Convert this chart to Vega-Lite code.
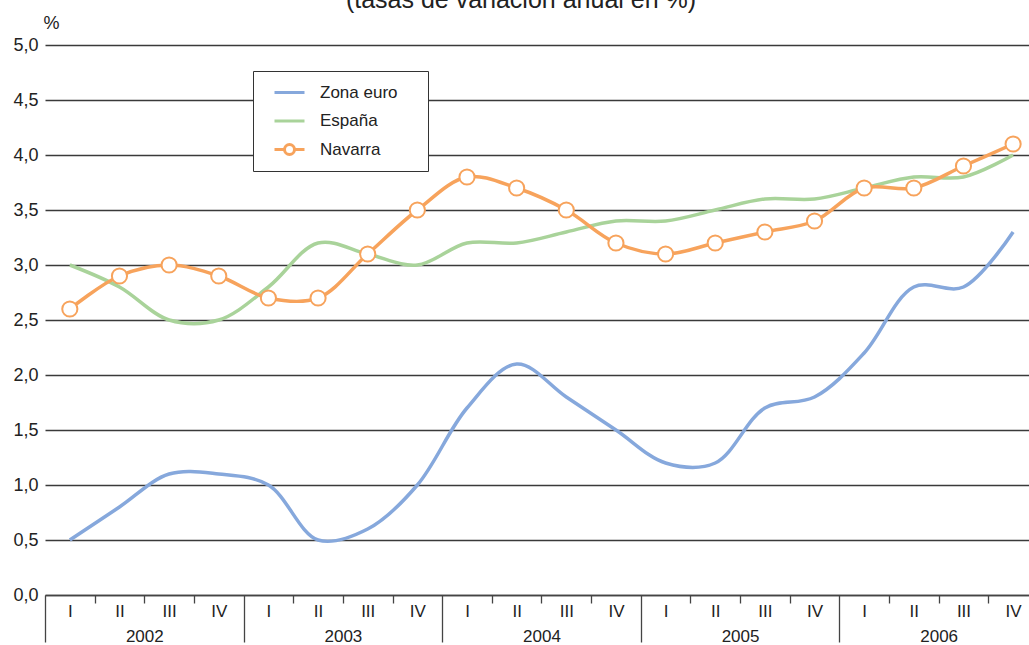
{
  "$schema": "https://vega.github.io/schema/vega-lite/v6.json",
  "width": 984,
  "height": 550,
  "autosize": {"type": "none"},
  "padding": {"left": 45, "top": 45, "right": 0, "bottom": 50},
  "background": "white",
  "title": {"text": "(tasas de variación anual en %)", "fontSize": 25, "fontWeight": "normal", "color": "#222222", "anchor": "middle", "frame": "group", "dx": -16, "offset": -19, "baseline": "alphabetic"},
  "config": {"font": "Liberation Sans", "view": {"stroke": null}},
  "data": {"values": [
    {"t": 2002.125, "serie": "Zona euro", "v": 0.5}, {"t": 2002.375, "serie": "Zona euro", "v": 0.8}, {"t": 2002.625, "serie": "Zona euro", "v": 1.1}, {"t": 2002.875, "serie": "Zona euro", "v": 1.1},
    {"t": 2003.125, "serie": "Zona euro", "v": 1.0}, {"t": 2003.375, "serie": "Zona euro", "v": 0.5}, {"t": 2003.625, "serie": "Zona euro", "v": 0.6}, {"t": 2003.875, "serie": "Zona euro", "v": 1.0},
    {"t": 2004.125, "serie": "Zona euro", "v": 1.7}, {"t": 2004.375, "serie": "Zona euro", "v": 2.1}, {"t": 2004.625, "serie": "Zona euro", "v": 1.8}, {"t": 2004.875, "serie": "Zona euro", "v": 1.5},
    {"t": 2005.125, "serie": "Zona euro", "v": 1.2}, {"t": 2005.375, "serie": "Zona euro", "v": 1.2}, {"t": 2005.625, "serie": "Zona euro", "v": 1.7}, {"t": 2005.875, "serie": "Zona euro", "v": 1.8},
    {"t": 2006.125, "serie": "Zona euro", "v": 2.2}, {"t": 2006.375, "serie": "Zona euro", "v": 2.8}, {"t": 2006.625, "serie": "Zona euro", "v": 2.8}, {"t": 2006.875, "serie": "Zona euro", "v": 3.3},
    {"t": 2002.125, "serie": "España", "v": 3.0}, {"t": 2002.375, "serie": "España", "v": 2.8}, {"t": 2002.625, "serie": "España", "v": 2.5}, {"t": 2002.875, "serie": "España", "v": 2.5},
    {"t": 2003.125, "serie": "España", "v": 2.8}, {"t": 2003.375, "serie": "España", "v": 3.2}, {"t": 2003.625, "serie": "España", "v": 3.1}, {"t": 2003.875, "serie": "España", "v": 3.0},
    {"t": 2004.125, "serie": "España", "v": 3.2}, {"t": 2004.375, "serie": "España", "v": 3.2}, {"t": 2004.625, "serie": "España", "v": 3.3}, {"t": 2004.875, "serie": "España", "v": 3.4},
    {"t": 2005.125, "serie": "España", "v": 3.4}, {"t": 2005.375, "serie": "España", "v": 3.5}, {"t": 2005.625, "serie": "España", "v": 3.6}, {"t": 2005.875, "serie": "España", "v": 3.6},
    {"t": 2006.125, "serie": "España", "v": 3.7}, {"t": 2006.375, "serie": "España", "v": 3.8}, {"t": 2006.625, "serie": "España", "v": 3.8}, {"t": 2006.875, "serie": "España", "v": 4.0},
    {"t": 2002.125, "serie": "Navarra", "v": 2.6}, {"t": 2002.375, "serie": "Navarra", "v": 2.9}, {"t": 2002.625, "serie": "Navarra", "v": 3.0}, {"t": 2002.875, "serie": "Navarra", "v": 2.9},
    {"t": 2003.125, "serie": "Navarra", "v": 2.7}, {"t": 2003.375, "serie": "Navarra", "v": 2.7}, {"t": 2003.625, "serie": "Navarra", "v": 3.1}, {"t": 2003.875, "serie": "Navarra", "v": 3.5},
    {"t": 2004.125, "serie": "Navarra", "v": 3.8}, {"t": 2004.375, "serie": "Navarra", "v": 3.7}, {"t": 2004.625, "serie": "Navarra", "v": 3.5}, {"t": 2004.875, "serie": "Navarra", "v": 3.2},
    {"t": 2005.125, "serie": "Navarra", "v": 3.1}, {"t": 2005.375, "serie": "Navarra", "v": 3.2}, {"t": 2005.625, "serie": "Navarra", "v": 3.3}, {"t": 2005.875, "serie": "Navarra", "v": 3.4},
    {"t": 2006.125, "serie": "Navarra", "v": 3.7}, {"t": 2006.375, "serie": "Navarra", "v": 3.7}, {"t": 2006.625, "serie": "Navarra", "v": 3.9}, {"t": 2006.875, "serie": "Navarra", "v": 4.1}
  ]},
  "encoding": {
    "y": {"field": "v", "type": "quantitative", "scale": {"domain": [0, 5], "nice": false, "zero": true},
      "axis": {"title": "%", "titleAngle": 0, "titleX": 6, "titleY": -17, "titleAlign": "center", "titleBaseline": "alphabetic", "titleFontSize": 18, "titleFontWeight": "normal", "titleColor": "#222222",
        "values": [0, 0.5, 1, 1.5, 2, 2.5, 3, 3.5, 4, 4.5, 5],
        "labelExpr": "replace(format(datum.value, '.1f'), '.', ',')",
        "domain": false, "ticks": false, "grid": true, "gridColor": "#3a3a3a", "gridWidth": 1.3,
        "labelFontSize": 18, "labelColor": "#222222", "labelPadding": 7}}
  },
  "resolve": {"axis": {"x": "independent"}},
  "layer": [
    {
      "transform": [{"filter": "datum.serie === 'Zona euro'"}],
      "mark": {"type": "line", "interpolate": "catmull-rom", "strokeWidth": 3.5, "color": "#86A8DC"},
      "encoding": {
        "x": {"field": "t", "type": "quantitative", "scale": {"domain": [2002, 2006.955], "nice": false, "zero": false},
          "axis": {"orient": "bottom", "title": null, "values": [2002.125, 2002.375, 2002.625, 2002.875, 2003.125, 2003.375, 2003.625, 2003.875, 2004.125, 2004.375, 2004.625, 2004.875, 2005.125, 2005.375, 2005.625, 2005.875, 2006.125, 2006.375, 2006.625, 2006.875],
            "labelExpr": "['I','II','III','IV'][floor((datum.value - floor(datum.value)) * 4)]",
            "ticks": false, "tickSize": 0, "grid": false, "domain": true, "domainColor": "#444444", "domainWidth": 1.3,
            "labelFontSize": 17, "labelColor": "#222222", "labelPadding": 8, "labelFlush": false, "labelOverlap": false}},
        "order": {"field": "t"}
      }
    },
    {
      "transform": [{"filter": "datum.serie === 'España'"}],
      "mark": {"type": "line", "interpolate": "catmull-rom", "strokeWidth": 3.5, "color": "#A9D39A"},
      "encoding": {
        "x": {"field": "t", "type": "quantitative", "axis": null},
        "order": {"field": "t"}
      }
    },
    {
      "transform": [{"filter": "datum.serie === 'Navarra'"}],
      "mark": {"type": "line", "interpolate": "catmull-rom", "strokeWidth": 3.5, "color": "#F7A35C"},
      "encoding": {
        "x": {"field": "t", "type": "quantitative", "axis": null},
        "order": {"field": "t"}
      }
    },
    {
      "transform": [{"filter": "datum.serie === 'Navarra'"}],
      "mark": {"type": "point", "shape": "circle", "filled": true, "fill": "white", "stroke": "#F7A35C", "strokeWidth": 2, "size": 230, "opacity": 1},
      "encoding": {
        "x": {"field": "t", "type": "quantitative",
          "axis": {"orient": "bottom", "title": null, "values": [2002.25, 2002.5, 2002.75, 2003.25, 2003.5, 2003.75, 2004.25, 2004.5, 2004.75, 2005.25, 2005.5, 2005.75, 2006.25, 2006.5, 2006.75],
            "labels": false, "ticks": true, "tickSize": 8, "tickColor": "#444444", "tickWidth": 1.3, "grid": false, "domain": false}}
      }
    },
    {
      "mark": {"type": "point", "filled": false, "opacity": 0},
      "encoding": {
        "x": {"field": "t", "type": "quantitative",
          "axis": {"orient": "bottom", "title": null, "values": [2002, 2003, 2004, 2005, 2006],
            "labels": false, "ticks": true, "tickSize": 47, "tickColor": "#444444", "tickWidth": 1.3, "grid": false, "domain": false}},
        "color": {"field": "serie", "type": "nominal", "scale": {"domain": ["Zona euro", "España", "Navarra"], "range": ["#86A8DC", "#A9D39A", "#F7A35C"]},
          "legend": {"title": null, "orient": "none", "legendX": 208, "legendY": 26, "padding": 10,
            "fillColor": "white", "strokeColor": "#333333",
            "symbolSize": 400, "symbolStrokeWidth": 3, "rowPadding": 8.5, "labelOffset": 34,
            "labelFontSize": 17, "labelColor": "#222222",
            "encode": {"legend": {"update": {"strokeWidth": {"value": 1.5}}}, "symbols": {"update": {"opacity": {"value": 1}, "fill": {"value": "white"}, "strokeWidth": {"value": 3}}}}}},
        "shape": {"field": "serie", "type": "nominal",
          "scale": {"domain": ["Zona euro", "España", "Navarra"], "range": ["M0,0L3,0M13.7,0", "M0,0L3,0M13.7,0", "M0,0L1,0M2,0L3,0M2,0A0.5,0.5,0,1,1,1,0A0.5,0.5,0,1,1,2,0M13.7,0"]},
          "legend": {"title": null, "orient": "none", "legendX": 208, "legendY": 26, "padding": 10,
            "fillColor": "white", "strokeColor": "#333333",
            "symbolSize": 400, "symbolStrokeWidth": 3, "rowPadding": 8.5, "labelOffset": 34,
            "labelFontSize": 17, "labelColor": "#222222",
            "encode": {"legend": {"update": {"strokeWidth": {"value": 1.5}}}, "symbols": {"update": {"opacity": {"value": 1}, "fill": {"value": "white"}, "strokeWidth": {"value": 3}}}}}}
      }
    },
    {
      "mark": {"type": "point", "opacity": 0},
      "encoding": {
        "x": {"field": "t", "type": "quantitative",
          "axis": {"orient": "bottom", "title": null, "values": [2002.5, 2003.5, 2004.5, 2005.5, 2006.5],
            "labelExpr": "floor(datum.value) + ''", "ticks": false, "tickSize": 0, "grid": false, "domain": false,
            "labelFontSize": 17, "labelColor": "#222222", "labelPadding": 33, "labelFlush": false, "labelOverlap": false}}
      }
    }
  ]
}
